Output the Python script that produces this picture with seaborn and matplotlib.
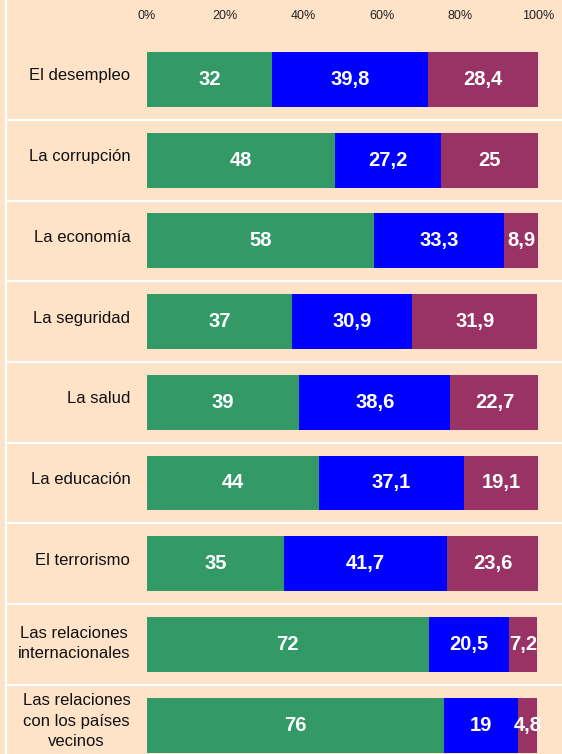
import numpy as np
import pandas as pd
import matplotlib.pyplot as plt
import seaborn as sns
from matplotlib.lines import Line2D
from matplotlib.transforms import ScaledTranslation

# data
categories = [
    "El desempleo",
    "La corrupción",
    "La economía",
    "La seguridad",
    "La salud",
    "La educación",
    "El terrorismo",
    "Las relaciones\ninternacionales",
    "Las relaciones\ncon los países\nvecinos",
]
green_vals = [32, 48, 58, 37, 39, 44, 35, 72, 76]
blue_vals = [39.8, 27.2, 33.3, 30.9, 38.6, 37.1, 41.7, 20.5, 19]
purple_vals = [28.4, 25, 8.9, 31.9, 22.7, 19.1, 23.6, 7.2, 4.8]
x_ticks = [0, 20, 40, 60, 80, 100]
x_tick_labels = ["0%", "20%", "40%", "60%", "80%", "100%"]

BG = "#FEE3C9"
GREEN = "#339966"
BLUE = "#0000FF"
PURPLE = "#993366"

sns.set_theme(style="white")
plt.rcParams["font.family"] = ["Liberation Sans", "DejaVu Sans"]

df = pd.DataFrame(
    {"cat": categories, "green": green_vals, "blue": blue_vals, "purple": purple_vals}
)
df["c1"] = df["green"]
df["c2"] = df["green"] + df["blue"]
df["c3"] = (df["c2"] + df["purple"]).clip(upper=100)

fig = plt.figure(figsize=(5.62, 7.54), dpi=100, facecolor=BG)
ax = fig.add_axes([147 / 562, 0, 391 / 562, 1 - 30 / 754])
ax.set_facecolor(BG)

# stacked bars drawn as overlapping cumulative bars
for col, color in [("c3", PURPLE), ("c2", BLUE), ("c1", GREEN)]:
    sns.barplot(
        data=df, x=col, y="cat", orient="h", color=color, width=0.68,
        errorbar=None, linewidth=0, saturation=1, ax=ax,
    )

# value labels in the middle of each segment
for i, row in df.iterrows():
    starts = [0, row["c1"], row["c2"]]
    for start, val in zip(starts, [row["green"], row["blue"], row["purple"]]):
        ax.text(
            start + val / 2, i, f"{val:g}".replace(".", ","),
            ha="center", va="center", color="white",
            fontsize=14.5, fontweight="bold",
        )

ax.set_xlim(0, 100)
ax.set_ylim(8.358, -0.613)
ax.xaxis.tick_top()
ax.set_xticks(x_ticks)
ax.set_xticklabels(x_tick_labels, fontsize=9, color="#222222")
ax.set_yticks(range(len(categories)))
ax.set_yticklabels(categories, fontsize=12, color="#111111",
                   multialignment="center", linespacing=1.45)
ax.tick_params(axis="x", length=0, pad=6)
ax.tick_params(axis="y", length=0, pad=12)
ax.set_xlabel("")
ax.set_ylabel("")
sns.despine(ax=ax, left=True, bottom=True, top=True, right=True)

# category labels sit a little above the bar centre
shift = ScaledTranslation(0, 5 / 100, fig.dpi_scale_trans)
for tick in ax.yaxis.get_major_ticks():
    tick.label1.set_transform(tick.label1.get_transform() + shift)
last_shift = ScaledTranslation(0, 3 / 100, fig.dpi_scale_trans)
last = ax.yaxis.get_major_ticks()[-1].label1
last.set_transform(last.get_transform() + last_shift)

# white separators between the rows
for i in range(len(categories) - 1):
    ax.axhline(i + 0.5, xmin=(6 - 147) / 391, xmax=(562 - 147) / 391,
               color="white", lw=1.6, clip_on=False)
fig.add_artist(Line2D([6 / 562, 6 / 562], [0, 1], transform=fig.transFigure,
                      color="white", lw=1.6))

plt.savefig("out.png", dpi=100, facecolor=BG)
